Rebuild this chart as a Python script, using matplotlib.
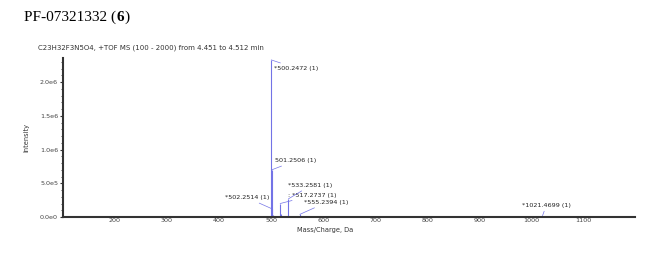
import matplotlib
matplotlib.use('Agg')
import matplotlib.pyplot as plt
from matplotlib.ticker import MultipleLocator

# peak list
mz = [500.2472, 501.2506, 502.2514, 503.25, 517.2737, 518.27, 533.2581, 555.2394, 1021.4699]
intensity = [2.33e6, 0.70e6, 0.12e6, 0.03e6, 0.20e6, 0.05e6, 0.27e6, 0.04e6, 0.02e6]

# labelled peaks: text and offsets (points) of the label
lab_mz = [500.2472, 501.2506, 502.2514, 517.2737, 533.2581, 555.2394, 1021.4699]
lab_txt = ['*500.2472 (1)', '501.2506 (1)', '*502.2514 (1)', ': *517.2737 (1)',
           '*533.2581 (1)', '*555.2394 (1)', '*1021.4699 (1)']
lab_off = [(2, -6), (2, 6.5), (-2, 8), (6, 6), (0, 9.5), (3, 8.5), (-15, 7)]
lab_ha = ['left', 'left', 'right', 'left', 'left', 'left', 'left']

yticks = [0, 5e5, 1e6, 1.5e6, 2e6]
ytick_labels = ['0.0e0', '5.0e5', '1.0e6', '1.5e6', '2.0e6']
xticks = [200, 300, 400, 500, 600, 700, 800, 900, 1000, 1100]

blue = '#7373e6'
grey = '#333333'

fig = plt.figure(figsize=(6.58, 2.73), dpi=100)
ax = fig.add_axes([0.0957, 0.205, 0.87, 0.583])

ax.vlines(mz, 0, intensity, color=blue, lw=0.8)

inten_of = dict(zip(mz, intensity))
for m, t, off, ha in zip(lab_mz, lab_txt, lab_off, lab_ha):
    ax.annotate(t, xy=(m, inten_of[m]), xytext=off, textcoords='offset points',
                ha=ha, va='center', fontsize=4.6, color='#222222',
                arrowprops=dict(arrowstyle='-', color=blue, lw=0.5,
                                shrinkA=0, shrinkB=0))

ax.set_xlim(100, 1200)
ax.set_ylim(0, 2.36e6)

for s in ['top', 'right']:
    ax.spines[s].set_visible(False)
for s in ['left', 'bottom']:
    ax.spines[s].set_color(grey)
    ax.spines[s].set_linewidth(1.5)

ax.set_yticks(yticks)
ax.set_yticklabels(ytick_labels)
ax.yaxis.set_minor_locator(MultipleLocator(1e5))
ax.set_xticks(xticks)
ax.set_xticklabels([str(x) for x in xticks])

ax.tick_params(axis='y', which='major', labelsize=4.6, labelcolor='#444444',
               length=2.5, width=0.8, color=grey, pad=1)
ax.tick_params(axis='y', which='minor', length=1.5, width=0.6, color=grey)
ax.tick_params(axis='x', which='major', labelsize=4.6, labelcolor='#444444',
               length=0, pad=0.5)

ax.set_xlabel('Mass/Charge, Da', fontsize=4.8, color='#333333')
ax.xaxis.set_label_coords(0.458, -0.06)
ax.set_ylabel('Intensity', fontsize=4.8, color='#333333')
ax.yaxis.set_label_coords(-0.058, 0.5)

# title with bold compound number
serif = 'Liberation Serif'
t1 = fig.text(0.037, 0.935, 'PF-07321332 (', fontsize=11, family=serif,
              va='center', ha='left')
fig.canvas.draw()
x6 = t1.get_window_extent().x1 / fig.bbox.width
t2 = fig.text(x6, 0.935, '6', fontsize=11, family=serif,
              fontweight='bold', va='center', ha='left')
fig.canvas.draw()
x7 = t2.get_window_extent().x1 / fig.bbox.width
fig.text(x7, 0.935, ')', fontsize=11, family=serif, va='center', ha='left')

fig.text(0.057, 0.826, 'C23H32F3N5O4, +TOF MS (100 - 2000) from 4.451 to 4.512 min',
         fontsize=5, color='#333333', va='center', ha='left')

fig.savefig('out.png', dpi=100)
